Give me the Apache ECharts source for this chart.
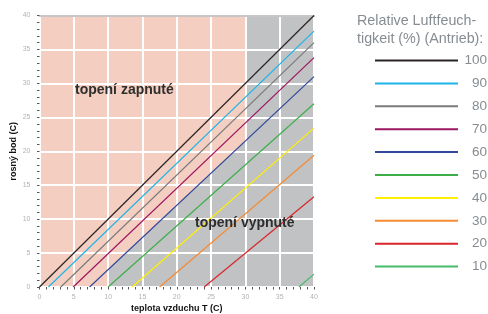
<!DOCTYPE html>
<html>
<head>
<meta charset="utf-8">
<script src="https://cdn.jsdelivr.net/npm/echarts@6/dist/echarts.min.js"></script>
<style>
html, body { margin: 0; padding: 0; background: #fff; }
#chart { width: 488px; height: 314px; }
</style>
</head>
<body>
<div id="chart"></div>
<script>
// relativni vlhkost (%) - nazvy rad
var rhLevels = ['100', '90', '80', '70', '60', '50', '40', '30', '20', '10'];
var lineColors = ['#2b2426', '#1db4e8', '#7a7a7a', '#9c1560', '#30489a', '#3eae49', '#fff000', '#f58a32', '#d8262c', '#45bb6a'];
// teplota T, kde rosny bod = 0 (zacatek cary)
var startT = [0, 1.3, 3.1, 4.9, 7.3, 10, 13.5, 17.5, 24, 37.8];
// rosny bod pri T = 40 (konec cary)
var endDew = [40, 37.7, 36.0, 33.8, 31.0, 27.0, 23.4, 19.4, 13.3, 1.9];
var endT = 40;
// oblast "topeni vypnute" (sede pozadi)
var offZone = [[10, 0], [10, 2.6], [30, 21.5], [30, 40], [40, 40]];
var xTicks = [0, 40, 5];
var yTicks = [0, 40, 5];

var chart = echarts.init(document.getElementById('chart'));

var series = [{
	name: 'off',
	type: 'line',
	data: offZone,
	symbol: 'none',
	silent: true,
	z: 1,
	lineStyle: { width: 0 },
	areaStyle: { color: '#c1c2c4', opacity: 1 }
}];
for (var i = 0; i < rhLevels.length; i++) {
	series.push({
		name: rhLevels[i],
		type: 'line',
		data: [[startT[i], 0], [endT, endDew[i]]],
		symbol: 'none',
		z: 3,
		color: lineColors[i],
		lineStyle: { color: lineColors[i], width: 1.2 }
	});
}

var tickStyle = { show: true, length: 2.5, inside: false, lineStyle: { color: '#555', width: 1 } };

option = {
	animation: false,
	textStyle: { fontFamily: 'Liberation Sans' },
	title: {
		text: 'Relative Luftfeuch-\ntigkeit (%) (Antrieb):',
		left: 357,
		top: 12,
		padding: 0,
		textStyle: { fontSize: 14.3, fontWeight: 'normal', color: '#868c92', lineHeight: 18, fontFamily: 'Liberation Sans' }
	},
	legend: {
		data: rhLevels,
		orient: 'vertical',
		left: 375,
		top: 53.5,
		padding: 0,
		itemWidth: 83,
		itemHeight: 2,
		itemGap: 8.9,
		icon: 'rect',
		formatter: '{n|{name}}',
		textStyle: {
			color: '#868c92',
			fontSize: 13.5,
			rich: { n: { width: 24, align: 'right', fontSize: 13.5, color: '#868c92', lineHeight: 16 } }
		}
	},
	grid: {
		left: 39.5,
		right: 174,
		top: 15.5,
		bottom: 27,
		outerBoundsMode: 'none',
		containLabel: false,
		show: true,
		backgroundColor: '#f4cfc1',
		borderWidth: 0
	},
	xAxis: [{
		type: 'value',
		min: xTicks[0], max: xTicks[1], interval: xTicks[2],
		z: 2,
		name: 'teplota vzduchu T (C)',
		nameLocation: 'middle',
		nameGap: 17,
		nameMoveOverlap: false,
		nameTextStyle: { fontSize: 9, fontWeight: 'bold', color: '#111' },
		axisLine: { show: false },
		axisTick: tickStyle,
		minorTick: { show: true, splitNumber: 5, length: 2.5, lineStyle: { color: '#555', width: 1 } },
		axisLabel: { fontSize: 7, color: '#b3b3b3', margin: 7 },
		splitLine: { show: true, lineStyle: { color: '#fff', width: 2 } }
	}, {
		type: 'value',
		position: 'top',
		min: xTicks[0], max: xTicks[1],
		z: 2,
		axisLine: { show: true, lineStyle: { color: '#c6c6c6', width: 2 } },
		axisTick: { show: false },
		axisLabel: { show: false },
		splitLine: { show: false }
	}],
	yAxis: {
		type: 'value',
		min: yTicks[0], max: yTicks[1], interval: yTicks[2],
		z: 2,
		name: 'rosný bod (C)',
		nameLocation: 'middle',
		nameGap: 21,
		nameMoveOverlap: false,
		nameTextStyle: { fontSize: 9, fontWeight: 'bold', color: '#111' },
		axisLine: { show: false },
		axisTick: tickStyle,
		minorTick: { show: true, splitNumber: 5, length: 2.5, lineStyle: { color: '#555', width: 1 } },
		axisLabel: { fontSize: 7, color: '#b3b3b3', margin: 9 },
		splitLine: { show: true, lineStyle: { color: '#fff', width: 2 } }
	},
	graphic: [{
		type: 'text',
		left: 75,
		top: 83,
		z: 10,
		style: { text: 'topení zapnuté', font: 'bold 14px Liberation Sans', fill: '#2e2e2e' }
	}, {
		type: 'text',
		left: 195,
		top: 216,
		z: 10,
		style: { text: 'topení vypnuté', font: 'bold 14px Liberation Sans', fill: '#2e2e2e' }
	}],
	series: series
};

chart.setOption(option);
</script>
</body>
</html>
